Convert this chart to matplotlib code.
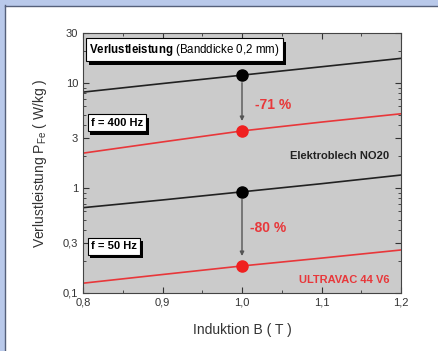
import numpy as np
import matplotlib
matplotlib.use("Agg")
import matplotlib.pyplot as plt
import matplotlib.ticker as mticker
import matplotlib.patheffects as pe
from matplotlib.patches import Rectangle

plt.rcParams['font.family'] = ['Liberation Sans', 'DejaVu Sans']
plt.rcParams['mathtext.fontset'] = 'custom'
plt.rcParams['mathtext.rm'] = 'Liberation Sans'
plt.rcParams['mathtext.bf'] = 'Liberation Sans:bold'

# data
induktion = [0.8, 0.9, 1.0, 1.1, 1.2]
no20_400 = [8.2, 9.9, 11.9, 14.3, 17.2]
uv_400 = [2.15, 2.75, 3.5, 4.25, 5.1]
no20_50 = [0.65, 0.77, 0.92, 1.1, 1.33]
uv_50 = [0.124, 0.15, 0.181, 0.215, 0.257]
x_ticks = [0.8, 0.9, 1.0, 1.1, 1.2]
x_labels = ['0,8', '0,9', '1,0', '1,1', '1,2']
y_ticks = [0.1, 0.3, 1, 3, 10, 30]
y_labels = ['0,1', '0,3', '1', '3', '10', '30']

red = '#e8373a'
fig = plt.figure(figsize=(4.38, 3.51), dpi=100)
fig.patch.set_facecolor('white')
# outer frame of the page
fig.patches.append(Rectangle((0, 0), 4 / 438, 1, transform=fig.transFigure, color='#b9c9ea', zorder=0))
fig.patches.append(Rectangle((0, 1 - 5 / 351), 1, 5 / 351, transform=fig.transFigure, color='#b9c9ea', zorder=0))
fig.add_artist(plt.Line2D([4.5 / 438, 4.5 / 438], [0, 1 - 5 / 351], transform=fig.transFigure, color='#55607a', lw=1))
fig.add_artist(plt.Line2D([4.5 / 438, 1], [1 - 5.5 / 351, 1 - 5.5 / 351], transform=fig.transFigure, color='#55607a', lw=1))

ax = fig.add_axes([83 / 438, 1 - 293 / 351, 318 / 438, 260 / 351])
ax.set_facecolor('#cbcbcb')
ax.set_yscale('log')
ax.set_xlim(0.8, 1.2)
ax.set_ylim(0.1, 30)

ax.plot(induktion, no20_400, color='#222222', lw=1.2)
ax.plot(induktion, uv_400, color=red, lw=1.2)
ax.plot(induktion, no20_50, color='#222222', lw=1.2)
ax.plot(induktion, uv_50, color=red, lw=1.2)

ax.plot([1.0, 1.0], [no20_400[2], no20_50[2]], 'o', color='black', ms=8, zorder=5)
ax.plot([1.0, 1.0], [uv_400[2], uv_50[2]], 'o', color='#f02020', ms=8, zorder=5)
for top, bot in [(no20_400[2], uv_400[2]), (no20_50[2], uv_50[2])]:
    ax.annotate('', xy=(1.0, bot * 1.17), xytext=(1.0, top * 0.9),
                arrowprops=dict(arrowstyle='-|>', color='#555555', lw=1, mutation_scale=6))

ax.set_xticks(x_ticks)
ax.set_xticklabels(x_labels)
ax.xaxis.set_minor_locator(mticker.MultipleLocator(0.05))
ax.yaxis.set_major_locator(mticker.FixedLocator(y_ticks))
ax.yaxis.set_major_formatter(mticker.FixedFormatter(y_labels))
ax.yaxis.set_minor_locator(mticker.LogLocator(subs=np.arange(2, 10)))
ax.yaxis.set_minor_formatter(mticker.NullFormatter())
ax.tick_params(which='both', direction='in', top=True, right=True, labelsize=8, colors='#333333')
ax.tick_params(which='major', length=4)
ax.tick_params(which='minor', length=2)
for s in ax.spines.values():
    s.set_color('#444444')

ax.set_xlabel('Induktion B ( T )', fontsize=10, color='#333333', labelpad=11)
ax.set_ylabel('Verlustleistung P$_\\mathrm{Fe}$ ( W/kg )', fontsize=10, color='#333333', labelpad=10)

shadow = [pe.SimplePatchShadow(offset=(2, -2.5), shadow_rgbFace='black', alpha=1), pe.Normal()]
box = dict(boxstyle='square,pad=0.3', fc='white', ec='black', lw=0.8)
t = ax.text(0.02, 0.935, r'$\bf{Verlustleistung}$ (Banddicke 0,2 mm)', transform=ax.transAxes,
            fontsize=8.3, va='center', bbox=box)
t.get_bbox_patch().set_path_effects(shadow)
t = ax.text(0.025, 0.655, 'f = 400 Hz', transform=ax.transAxes, fontsize=8, fontweight='bold',
            va='center', bbox=box)
t.get_bbox_patch().set_path_effects(shadow)
t = ax.text(0.025, 0.18, 'f = 50 Hz', transform=ax.transAxes, fontsize=8, fontweight='bold',
            va='center', bbox=box)
t.get_bbox_patch().set_path_effects(shadow)

ax.text(1.016, 6.2, '-71 %', color=red, fontsize=10, fontweight='bold', va='center')
ax.text(1.01, 0.42, '-80 %', color=red, fontsize=10, fontweight='bold', va='center')
ax.text(1.185, 2.0, 'Elektroblech NO20', color='#222222', fontsize=8, fontweight='bold', ha='right', va='center')
ax.text(1.185, 0.133, 'ULTRAVAC 44 V6', color=red, fontsize=8, fontweight='bold', ha='right', va='center')

fig.savefig('out.png', dpi=100)
